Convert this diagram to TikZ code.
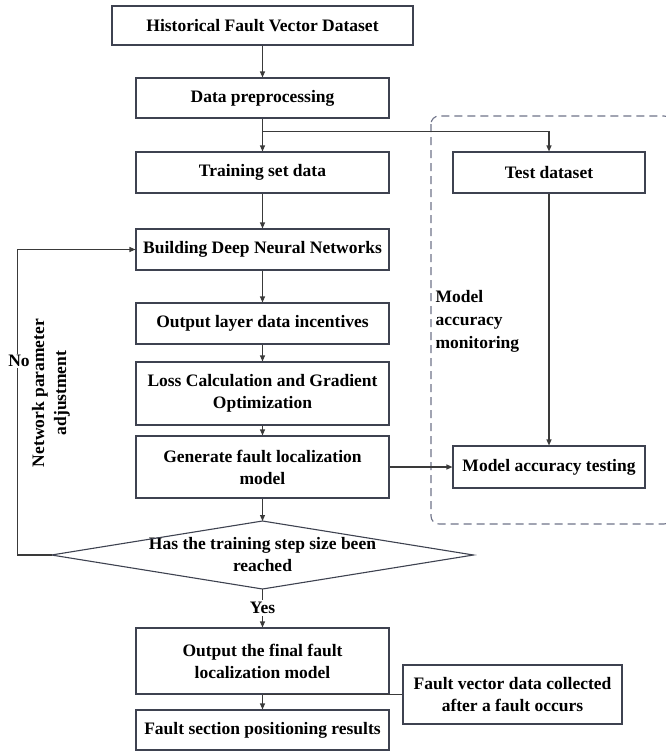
\documentclass[tikz,border=0pt]{standalone}
\usepackage{fontspec}
\setmainfont{Liberation Serif}
\usetikzlibrary{arrows.meta}
\definecolor{boxc}{HTML}{3E4250}
\definecolor{linec}{HTML}{3A3A3A}
\definecolor{dashc}{HTML}{6E7389}

\begin{document}
\begin{tikzpicture}[x=1pt, y=-1pt, node distance={74pt}, line width=1.1pt,
  lbl/.style = {font=\bfseries\fontsize{17.5}{22}\selectfont, align=center, inner sep=2pt},
  main/.style = {lbl, draw=boxc, rectangle, minimum width=253pt, minimum height=41pt},
  arr/.style = {draw=linec, -{Triangle[length=6pt,width=5pt]}}]
\useasboundingbox (0,0) rectangle (665,756);

\node[main, minimum width=301pt, minimum height=39pt] (1) at (262.5,25.5) {Historical Fault Vector Dataset};
\node[main, minimum height=40pt] (2) [below of=1, node distance=72.5pt] {Data preprocessing};
\node[main] (3) [below of=2, node distance=74.5pt] {Training set data};
\node[main] (4) [below of=3, node distance=77pt] {Building Deep Neural Networks};
\node[main] (5) [below of=4] {Output layer data incentives};
\node[main, minimum height=63pt] (6) [below of=5, node distance=70pt] {Loss Calculation and Gradient\\Optimization};
\node[main, minimum height=62pt] (7) [below of=6, node distance=73.5pt] {Generate fault localization\\model};
\node[lbl] (8) [below of=7, node distance=88pt] {Has the training step size been\\reached};
\node[main, minimum height=66pt] (9) [below of=8, node distance=106pt] {Output the final fault\\localization model};
\node[main, minimum height=40pt] (10) [below of=9, node distance=69pt] {Fault section positioning results};
\node[main, minimum width=192pt] (11) [right of=3, node distance=286.5pt] {Test dataset};
\node[main, minimum width=192pt, minimum height=42pt] (12) [right of=7, node distance=286.5pt] {Model accuracy testing};
\node[main, minimum width=219pt, minimum height=59pt] (13) at (512.5,694.5) {Fault vector data collected\\after a fault occurs};
\node[lbl, anchor=west, align=left, font=\bfseries\fontsize{17.5}{23}\selectfont] (14) at (433,321) {Model\\accuracy\\monitoring};

% decision diamond
\path (8) +(0,-34) coordinate (8n) +(211,0) coordinate (8e) +(0,34) coordinate (8s) +(-211,0) coordinate (8w);
\draw[boxc] (8n) -- (8e) -- (8s) -- (8w) -- cycle;

% monitoring frame
\draw[dashc, dash pattern=on 8pt off 5pt, rounded corners=8pt] (431,116) rectangle (672,524);

\draw[arr] (1) -- (2);
\draw[arr] (2) -- (3);
\path (2.south) ++(0,13) coordinate (b);
\draw[arr] (b) -| (11.north);
\draw[arr] (3) -- (4);
\draw[arr] (4) -- (5);
\draw[arr] (5) -- (6);
\draw[arr] (6) -- (7);
\draw[arr] (7) -- (8n);
\draw[arr] (7) -- (12);
\draw[arr] (11) -- (12);
\draw[arr] (8s) -- node[lbl, fill=white] (15) {Yes} (9);
\draw[arr] (9) -- (10);
\draw[linec] (13.west) -- (13.west -| 9.south);

% loop back
\draw[arr] (8w) -- ++(-34,0) |- (4.west);
\node[lbl, fill=white, inner sep=1pt] (16) at (19,361) {No};
\node[lbl, rotate=90] (17) at (51,393) {Network parameter\\adjustment};
\end{tikzpicture}
\end{document}
